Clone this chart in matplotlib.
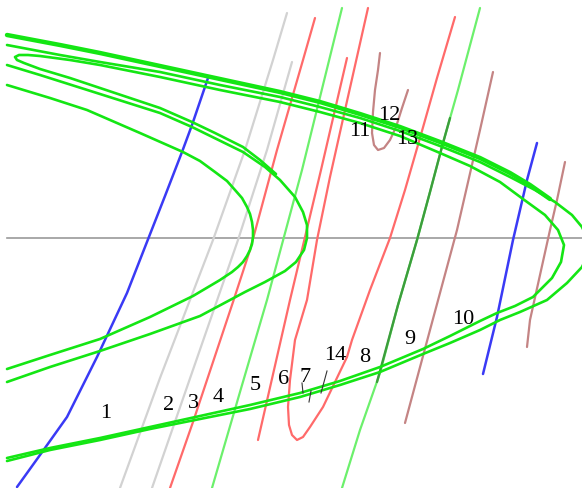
import numpy as np
import matplotlib
matplotlib.use('Agg')
import matplotlib.pyplot as plt

# unstable manifold strands (screen-like coords, y grows downward)
strand_thick = [(7,35),(60,45),(100,53),(160,66),(220,79),(280,92),(320,102),(360,114),
                (400,127),(440,142),(480,158),(510,173),(530,185),(550,199)]
strand_outer = [(7,45),(60,55),(100,62),(160,72),(220,85),(280,97),(320,107),(360,118),
                (400,131),(440,146),(480,162),(510,177),(535,190),(555,202),(572,215),
                (582,227),(588,240),(589,252),(582,267),(567,283),(547,300),(520,312),
                (500,320),(480,330),(450,343),(423,354),(380,372),(340,385),(300,397),
                (250,409),(200,419),(150,429),(100,440),(50,450),(7,461)]
strand_fold = [(276,174),(260,160),(243,147),(215,133),(192,122),(160,108),(130,98),
               (100,88),(70,78),(40,69),(24,63),(17,60),(15,57),(19,55),(28,55),(40,56),
               (70,60),(100,65),(160,77),(220,90),(280,102),(320,112),(360,123),(400,136),
               (440,153),(470,166),(500,182),(523,199),(545,215),(558,230),(564,245),
               (561,262),(552,278),(533,297),(515,306),(497,313),(480,321),(450,336),
               (423,349),(380,367),(340,381),(300,393),(250,405),(200,416),(150,427),
               (100,438),(50,448),(7,458)]
strand_mid = [(7,65),(40,75),(100,94),(160,113),(192,127),(243,152),(265,167),(280,180),
              (295,197),(303,212),(307,225),(307,238),(304,250),(296,262),(285,271),
              (265,282),(245,292),(230,300),(200,316),(150,334),(100,351),(50,367),(7,382)]
strand_inner = [(7,85),(50,98),(87,110),(140,133),(183,152),(200,161),(215,172),(227,181),
                (235,190),(242,198),(247,207),(250,214),(252,222),(253,230),(253,237),
                (252,244),(250,250),(247,256),(243,262),(238,267),(232,272),(220,280),
                (193,296),(150,317),(100,339),(50,355),(7,369)]

# stable manifold pieces
blue_1 = [(17,487),(40,455),(67,417),(97,357),(127,293),(145,247),(165,196),(182,152),
          (192,125),(208,78)]
gray_2 = [(120,488),(160,378),(213,240),(245,150),(273,60),(287,13)]
gray_3 = [(152,488),(195,364),(238,240),(267,150),(292,62)]
red_3 = [(170,488),(193,422),(233,302),(250,250),(277,150),(303,60),(315,18)]
green_4 = [(212,488),(240,392),(267,300),(302,170),(342,8)]
red_5 = [(258,440),(290,300),(321,170),(347,58)]
red_u = [(368,8),(345,110),(330,177),(317,240),(307,300),(295,340),(290,380),(288,407),
         (289,425),(292,435),(297,440),(303,437),(310,427),(323,407),(335,382),(347,357),
         (352,340),(370,290),(390,238),(405,190),(420,138),(437,78),(455,17)]
green_8 = [(342,488),(360,430),(380,373),(398,305),(417,240),(430,192),(443,143),(458,90),
           (480,8)]
green_8_dark = [(377,382),(398,305),(417,240),(430,192),(443,143),(450,118)]
brown_9 = [(405,423),(430,330),(457,230),(480,130),(493,72)]
blue_10 = [(483,374),(497,317),(513,240),(527,180),(537,143)]
brown_right = [(527,347),(530,320),(540,275),(550,230),(557,200),(565,162)]
brown_u = [(380,53),(378,70),(375,90),(373,112),(372,133),(374,145),(378,150),(384,148),
           (390,140),(396,127),(402,108),(408,90)]

axis_y = 238
axis_x = (7, 582)

label_text = ['1','2','3','4','5','6','7','14','8','9','10','11','12','13']
label_x = [106,169,193,218,255,284,305,335,365,410,463,360,389,407]
label_y = [413,406,403,397,385,380,377,355,357,340,319,132,115,139]

# little leader ticks next to 7 and 14
ticks = [[(302,383),(303,393)], [(311,391),(309,402)], [(327,371),(321,393)]]

fig = plt.figure(figsize=(5.82, 4.88), dpi=100)
ax = fig.add_axes([0, 0, 1, 1])
ax.set_xlim(0, 582)
ax.set_ylim(488, 0)
ax.axis('off')

def draw(pts, color, lw, z=2):
    p = np.array(pts, dtype=float)
    ax.plot(p[:, 0], p[:, 1], color=color, lw=lw, solid_capstyle='round',
            solid_joinstyle='round', zorder=z)

ax.plot(axis_x, [axis_y, axis_y], color='#9a9a9a', lw=1.2, zorder=1)

draw(gray_2, '#d2d2d2', 1.6)
draw(gray_3, '#d2d2d2', 1.6)
draw(red_3, '#ff6a6a', 1.6)
draw(red_5, '#ff6a6a', 1.6)
draw(red_u, '#ff6a6a', 1.6)
draw(green_4, '#6cf06c', 1.6)
draw(green_8, '#6cf06c', 1.6)
draw(green_8_dark, '#3c9e3c', 1.7)
draw(brown_9, '#c48484', 1.6)
draw(brown_right, '#c48484', 1.6)
draw(brown_u, '#c48484', 1.6)
draw(blue_1, '#3a3af5', 1.8, 3)
draw(blue_10, '#3a3af5', 1.8, 3)

for s in (strand_outer, strand_fold, strand_mid, strand_inner):
    draw(s, '#14e614', 1.9, 4)
draw(strand_thick, '#14e614', 3.2, 4)

for t in ticks:
    p = np.array(t)
    ax.plot(p[:, 0], p[:, 1], color='#333333', lw=0.8, zorder=5)

for s, x, y in zip(label_text, label_x, label_y):
    ax.text(x, y, s, ha='center', va='center', fontsize=16,
            family='Liberation Serif', color='black', zorder=6)

fig.savefig('out.png', dpi=100)
